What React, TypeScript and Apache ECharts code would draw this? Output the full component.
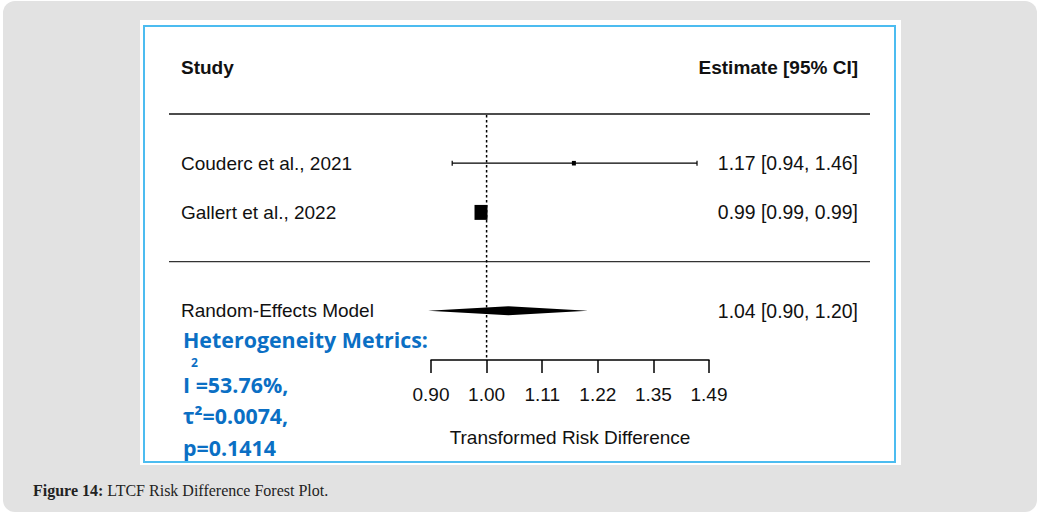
import React, { useEffect, useRef } from "react";
import * as echarts from "echarts";

// ---------- data ----------
const studies = ["Couderc et al., 2021", "Gallert et al., 2022"];
const estimates = [1.17, 0.99];
const lowerCI = [0.94, 0.99];
const upperCI = [1.46, 0.99];
const weights = [8.6, 91.4];

const modelLabel = "Random-Effects Model";
const modelEstimate = 1.04;
const modelLower = 0.9;
const modelUpper = 1.2;

const tickLabels = ["0.90", "1.00", "1.11", "1.22", "1.35", "1.49"];
const xMin = -0.1;
const xMax = 0.4;
const xInterval = 0.1;

const heteroTitle = "Heterogeneity Metrics:";
const i2Text = "I =53.76%,";
const tau2Text = "τ²=0.0074,";
const pText = "p=0.1414";

const captionBold = "Figure 14:";
const captionText = " LTCF Risk Difference Forest Plot.";

// row positions on the hidden y axis
const studyRows = studies.map((_, i) => 5 - i);
const modelRow = 2;
const separatorRow = 3;
const topRow = 6;
const bottomRow = 1;

const FONT = "'Liberation Sans', Arial, sans-serif";
const BFONT = "'Open Sans', sans-serif";
const TXT = "#111111";
const BLUE = "#0b6fc4";
const BSIZE = 21.4;

export default function App() {
  const ref = useRef<HTMLDivElement>(null);

  useEffect(() => {
    if (!ref.current) return;
    const chart = echarts.init(ref.current, undefined, { renderer: "svg" });
    const maxW = Math.max(...weights);

    const studyData = studies.map((_, i) => [
      Math.log(estimates[i]),
      studyRows[i],
      Math.log(lowerCI[i]),
      Math.log(upperCI[i]),
      weights[i],
    ]);

    const fmt = (v: number) => v.toFixed(2);
    const blueText = (text: string, y: number) => ({
      type: "text", z: 20, x: 183, y,
      style: { text, fontSize: BSIZE, lineHeight: 20, fontWeight: "bold", fontFamily: BFONT, fill: BLUE, verticalAlign: "middle" },
    });

    const option: any = {
      animation: false,
      grid: { left: 431, right: 333, top: 114, bottom: 157, z: 10 },
      xAxis: {
        type: "value",
        z: 10,
        min: xMin,
        max: xMax,
        interval: xInterval,
        splitLine: { show: false },
        axisLine: { show: true, lineStyle: { color: "#000", width: 1.5 } },
        axisTick: { show: true, inside: false, length: 13, lineStyle: { color: "#000", width: 1.5 } },
        axisLabel: {
          margin: 25,
          fontSize: 19,
          fontFamily: FONT,
          color: TXT,
          formatter: (v: number) => tickLabels[Math.round((v - xMin) / xInterval)] ?? "",
        },
        name: "Transformed Risk Difference",
        nameLocation: "middle",
        nameGap: 68,
        nameTextStyle: { fontSize: 19, fontFamily: FONT, color: TXT },
      },
      yAxis: { type: "value", min: bottomRow, max: topRow, show: false },
      graphic: [
        { type: "rect", z: 0, silent: true, shape: { x: 3, y: 1, width: 1034, height: 511, r: 12 }, style: { fill: "#e2e2e2" } },
        { type: "rect", z: 1, silent: true, shape: { x: 140, y: 20, width: 761, height: 445 }, style: { fill: "#ffffff" } },
        { type: "rect", z: 2, silent: true, shape: { x: 144, y: 26, width: 751, height: 436 }, style: { fill: "none", stroke: "#4cbcf0", lineWidth: 2 } },
        { type: "text", z: 20, x: 181, y: 67, style: { text: "Study", fontSize: 19, fontWeight: "bold", fontFamily: FONT, fill: TXT, verticalAlign: "middle" } },
        { type: "text", z: 20, x: 858, y: 67, style: { text: "Estimate [95% CI]", fontSize: 19, fontWeight: "bold", fontFamily: FONT, fill: TXT, align: "right", verticalAlign: "middle" } },
        blueText(heteroTitle, 339),
        { type: "text", z: 20, x: 191, y: 362, style: { text: "2", fontSize: 12, lineHeight: 11, fontWeight: "bold", fontFamily: BFONT, fill: BLUE, verticalAlign: "middle" } },
        blueText(i2Text, 384),
        blueText(tau2Text, 415),
        blueText(pText, 447),
        {
          type: "text", z: 20, x: 33, y: 490,
          style: {
            text: `{b|${captionBold}}{n|${captionText}}`,
            verticalAlign: "middle",
            rich: {
              b: { fontSize: 16, fontWeight: "bold", fontFamily: "'Liberation Serif', serif", fill: "#222" },
              n: { fontSize: 16, fontFamily: "'Liberation Serif', serif", fill: "#222" },
            },
          },
        },
      ],
      series: [
        {
          type: "custom",
          name: "frame",
          z: 10,
          data: [[0, topRow]],
          renderItem: (params: any, api: any) => {
            const top = api.coord([0, topRow]);
            const sep = api.coord([0, separatorRow]);
            const bot = api.coord([0, bottomRow]);
            return {
              type: "group",
              children: [
                { type: "line", shape: { x1: 169, y1: top[1], x2: 870, y2: top[1] }, style: { stroke: "#111", lineWidth: 1.5 } },
                { type: "line", shape: { x1: 169, y1: sep[1], x2: 870, y2: sep[1] }, style: { stroke: "#333", lineWidth: 1.2 } },
                { type: "line", shape: { x1: top[0], y1: top[1] + 1, x2: bot[0], y2: bot[1] }, style: { stroke: "#000", lineWidth: 1.5, lineDash: [2.5, 2.5] } },
              ],
            };
          },
        },
        {
          type: "custom",
          name: "studies",
          z: 11,
          data: studyData,
          renderItem: (params: any, api: any) => {
            const i = params.dataIndex;
            const row = api.value(1);
            const c = api.coord([api.value(0), row]);
            const l = api.coord([api.value(2), row]);
            const h = api.coord([api.value(3), row]);
            const size = 13 * Math.sqrt(api.value(4) / maxW);
            const children: any[] = [];
            if (h[0] - l[0] > 1) {
              children.push(
                { type: "line", shape: { x1: l[0], y1: c[1], x2: h[0], y2: c[1] }, style: { stroke: "#000", lineWidth: 1.2 } },
                { type: "line", shape: { x1: l[0], y1: c[1] - 2.5, x2: l[0], y2: c[1] + 2.5 }, style: { stroke: "#000", lineWidth: 1.2 } },
                { type: "line", shape: { x1: h[0], y1: c[1] - 2.5, x2: h[0], y2: c[1] + 2.5 }, style: { stroke: "#000", lineWidth: 1.2 } }
              );
            }
            const hgt = size * 1.15;
            children.push({ type: "rect", shape: { x: c[0] - size / 2, y: c[1] - hgt / 2, width: size, height: hgt }, style: { fill: "#000" } });
            children.push({ type: "text", x: 181, y: c[1], style: { text: studies[i], fontSize: 19, fontFamily: FONT, fill: TXT, verticalAlign: "middle" } });
            children.push({
              type: "text", x: 858, y: c[1],
              style: { text: `${fmt(estimates[i])} [${fmt(lowerCI[i])}, ${fmt(upperCI[i])}]`, fontSize: 19.4, fontFamily: FONT, fill: TXT, align: "right", verticalAlign: "middle" },
            });
            return { type: "group", children };
          },
        },
        {
          type: "custom",
          name: "model",
          z: 11,
          data: [[Math.log(modelEstimate), modelRow, Math.log(modelLower), Math.log(modelUpper)]],
          renderItem: (params: any, api: any) => {
            const row = api.value(1);
            const c = api.coord([api.value(0), row]);
            const l = api.coord([api.value(2), row]);
            const h = api.coord([api.value(3), row]);
            return {
              type: "group",
              children: [
                { type: "polygon", shape: { points: [[l[0], c[1]], [c[0], c[1] - 4.5], [h[0], c[1]], [c[0], c[1] + 4.5]] }, style: { fill: "#000" } },
                { type: "text", x: 181, y: c[1], style: { text: modelLabel, fontSize: 19, fontFamily: FONT, fill: TXT, verticalAlign: "middle" } },
                {
                  type: "text", x: 858, y: c[1],
                  style: { text: `${fmt(modelEstimate)} [${fmt(modelLower)}, ${fmt(modelUpper)}]`, fontSize: 19.4, fontFamily: FONT, fill: TXT, align: "right", verticalAlign: "middle" },
                },
              ],
            };
          },
        },
      ],
    };

    chart.setOption(option);
    return () => chart.dispose();
  }, []);

  return (
    <div
      ref={ref}
      style={{ position: "fixed", left: 0, top: 0, width: 1042, height: 517, background: "#ffffff" }}
    />
  );
}
